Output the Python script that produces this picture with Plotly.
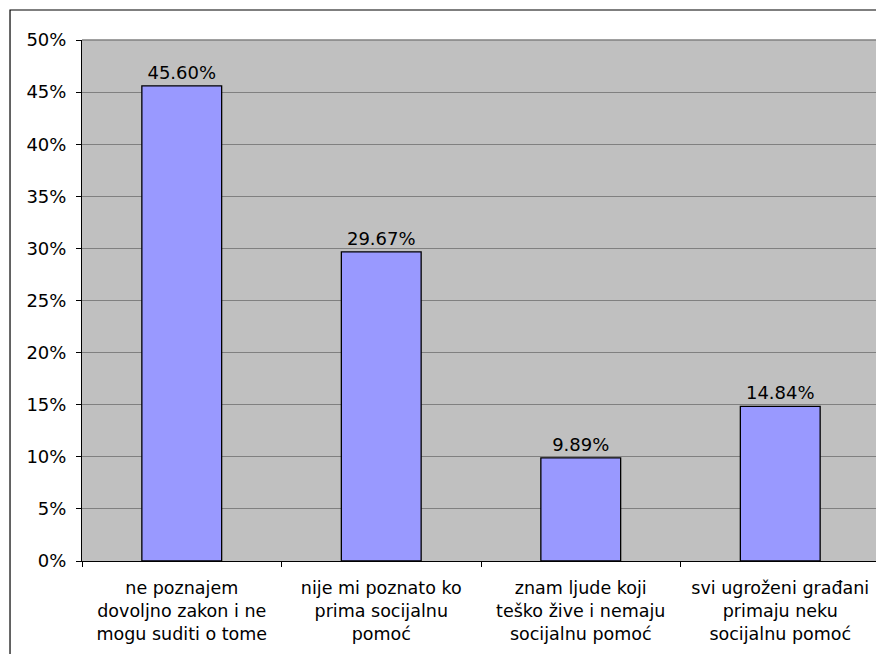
import plotly.graph_objects as go

# survey answers (Serbian), share of respondents
categories = [
    "ne poznajem<br>dovoljno zakon i ne<br>mogu suditi o tome",
    "nije mi poznato ko<br>prima socijalnu<br>pomoć",
    "znam ljude koji<br>teško žive i nemaju<br>socijalnu pomoć",
    "svi ugroženi građani<br>primaju neku<br>socijalnu pomoć",
]
shares = [0.4560, 0.2967, 0.0989, 0.1484]
y_ticks = [0, 0.05, 0.10, 0.15, 0.20, 0.25, 0.30, 0.35, 0.40, 0.45, 0.50]

FONT = "DejaVu Sans"

fig = go.Figure()
fig.add_trace(go.Bar(
    x=categories,
    y=shares,
    marker=dict(color="#9999FF", line=dict(color="black", width=1.3)),
    texttemplate="%{y:.2%}",
    textposition="outside",
    textfont=dict(family=FONT, size=18, color="black"),
    cliponaxis=False,
))

# page body has an 8px margin, so the figure is a bit smaller than the window
fig.update_layout(
    width=876, height=646,
    margin=dict(l=74, r=4, t=32, b=93),
    paper_bgcolor="white",
    plot_bgcolor="#C0C0C0",
    bargap=0.6,
    showlegend=False,
    font=dict(family=FONT, size=18, color="black"),
)

fig.update_xaxes(
    type="category",
    tickson="boundaries",
    ticks="outside", ticklen=5, tickcolor="black",
    showline=True, linecolor="black", linewidth=1,
    showgrid=False,
    ticklabelstandoff=11,
    tickfont=dict(family=FONT, size=17.5),
)
fig.update_yaxes(
    range=[0, 0.5],
    tickvals=y_ticks,
    tickformat=".0%",
    ticks="outside", ticklen=5, tickcolor="black",
    showline=True, linecolor="black", linewidth=1,
    showgrid=True, gridcolor="#808080", gridwidth=1,
    zeroline=False,
    ticklabelstandoff=6,
    tickfont=dict(family=FONT, size=18),
)

# plot area frame on the top and right (gray)
fig.add_shape(type="line", xref="paper", yref="paper", x0=0, x1=1, y0=1, y1=1,
              line=dict(color="#808080", width=1.5))
fig.add_shape(type="line", xref="paper", yref="paper", x0=1, x1=1, y0=0, y1=1,
              line=dict(color="#808080", width=1.5))

# outer chart border
fig.add_shape(type="rect", xref="paper", yref="paper",
              x0=-0.0902, x1=1.03, y0=-0.25, y1=1.0576,
              line=dict(color="black", width=1.2), layer="below")

fig.write_html("out.html")
